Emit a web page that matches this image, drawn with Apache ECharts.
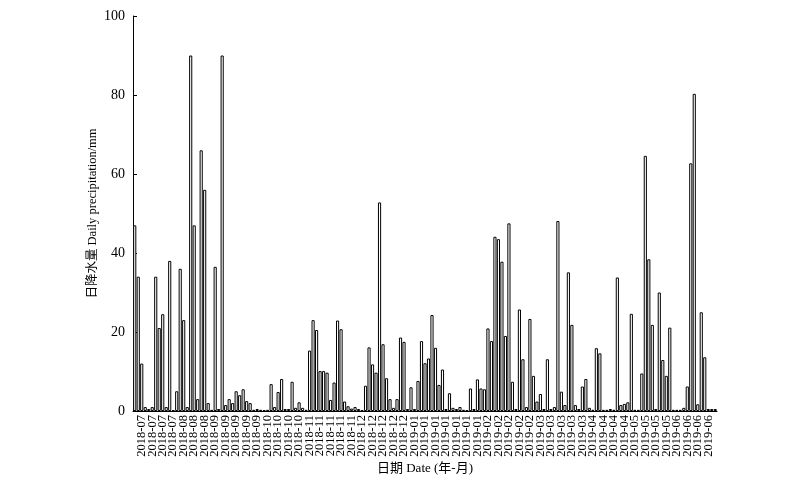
<!DOCTYPE html>
<html>
<head>
<meta charset="utf-8">
<script src="https://cdn.jsdelivr.net/npm/echarts@6/dist/echarts.min.js"></script>
<style>html,body{margin:0;padding:0;background:#fff}#c{width:800px;height:485px}</style>
</head>
<body>
<div id="c"></div>
<script>
// Daily precipitation (mm), one value per bar
const precip = [
47, 34, 12, 1, 0.5, 1, 34, 21, 24.5, 1,
38, 0.2, 5, 36, 23, 1, 90, 47, 3, 66,
56, 2, 0.3, 36.5, 0.5, 90, 1.5, 3, 2, 5,
4, 5.5, 2.5, 2, 0.3, 0.5, 0.3, 0.2, 0.3, 6.8,
1, 4.8, 8.1, 0.5, 0.5, 7.4, 0.8, 2.2, 0.8, 0.3,
15.3, 23, 20.5, 10.1, 10.1, 9.7, 2.8, 7.2, 22.9, 20.7,
2.4, 1.2, 0.6, 1, 0.5, 0.2, 6.4, 16.1, 11.8, 9.7,
52.8, 16.9, 8.3, 3, 0.8, 3, 18.6, 17.5, 0.5, 6,
0.5, 7.6, 17.7, 12.1, 13.3, 24.3, 16, 6.6, 10.5, 0.5,
4.5, 0.8, 0.5, 1, 0.3, 0.2, 5.7, 0.5, 8, 5.7,
5.5, 20.9, 17.7, 44.1, 43.5, 37.8, 19, 47.5, 7.4, 0.5,
25.7, 13.1, 1, 23.3, 8.9, 2.4, 4.3, 0.5, 13.1, 0.5,
1, 48.1, 4.9, 1.5, 35.1, 21.8, 1.5, 0.5, 6.2, 8.1,
0.8, 0.3, 15.9, 14.6, 0.3, 0.3, 0.5, 0.3, 33.8, 1.5,
1.8, 2.2, 24.6, 0.3, 0.3, 9.5, 64.6, 38.4, 21.8, 0.5,
30, 12.9, 8.9, 21.1, 0.3, 0.3, 0.3, 0.8, 6.2, 62.7,
80.3, 1.7, 25, 13.6, 0.5, 0.5, 0.5
];

// Tick labels shown on the x axis (every third bar, starting at the third)
const tickLabels = [
'2018-07','2018-07','2018-07','2018-07',
'2018-08','2018-08','2018-08',
'2018-09','2018-09','2018-09','2018-09','2018-09',
'2018-10','2018-10','2018-10','2018-10',
'2018-11','2018-11','2018-11','2018-11','2018-11',
'2018-12','2018-12','2018-12','2018-12','2018-12',
'2019-01','2019-01','2019-01','2019-01','2019-01','2019-01','2019-01',
'2019-02','2019-02','2019-02','2019-02','2019-02',
'2019-03','2019-03','2019-03','2019-03','2019-03',
'2019-04','2019-04','2019-04','2019-04',
'2019-05','2019-05','2019-05','2019-05',
'2019-06','2019-06','2019-06','2019-06'
];
const labelStart = 2, labelStep = 3;

const yTicks = [0, 20, 40, 60, 80, 100];

const categories = precip.map((_, i) => {
  const k = i - labelStart;
  return (k >= 0 && k % labelStep === 0 && tickLabels[k / labelStep]) ? tickLabels[k / labelStep] : '';
});

const serif = '"Liberation Serif", "Times New Roman", "Noto Sans CJK SC", serif';

const chart = echarts.init(document.getElementById('c'), null, {renderer: 'canvas'});
chart.setOption({
  animation: false,
  backgroundColor: '#fff',
  grid: {left: 133, right: 83, top: 16, bottom: 74, containLabel: false},
  xAxis: {
    type: 'category',
    data: categories,
    boundaryGap: true,
    name: '日期 Date (年-月)',
    nameLocation: 'middle',
    nameGap: 51,
    nameMoveOverlap: false,
    nameTextStyle: {fontFamily: serif, fontSize: 13, color: '#000'},
    axisLine: {show: true, lineStyle: {color: '#000', width: 1}},
    axisTick: {show: false},
    axisLabel: {interval: 0, rotate: 90, fontFamily: serif, fontSize: 12.5, color: '#000', margin: 4},
    splitLine: {show: false}
  },
  yAxis: {
    type: 'value',
    min: yTicks[0],
    max: yTicks[yTicks.length - 1],
    interval: yTicks[1] - yTicks[0],
    name: '日降水量 Daily precipitation/mm',
    nameLocation: 'middle',
    nameGap: 34,
    nameMoveOverlap: false,
    nameTextStyle: {fontFamily: serif, fontSize: 12.5, color: '#000'},
    axisLine: {show: true, lineStyle: {color: '#000', width: 1}},
    axisTick: {show: true, inside: true, length: 4, lineStyle: {color: '#000'}},
    axisLabel: {fontFamily: serif, fontSize: 14, color: '#000', margin: 8},
    splitLine: {show: false}
  },
  series: [{
    type: 'bar',
    data: precip,
    barCategoryGap: '10%',
    itemStyle: {color: '#fff', borderColor: '#000', borderWidth: 1}
  }]
});
</script>
</body>
</html>
